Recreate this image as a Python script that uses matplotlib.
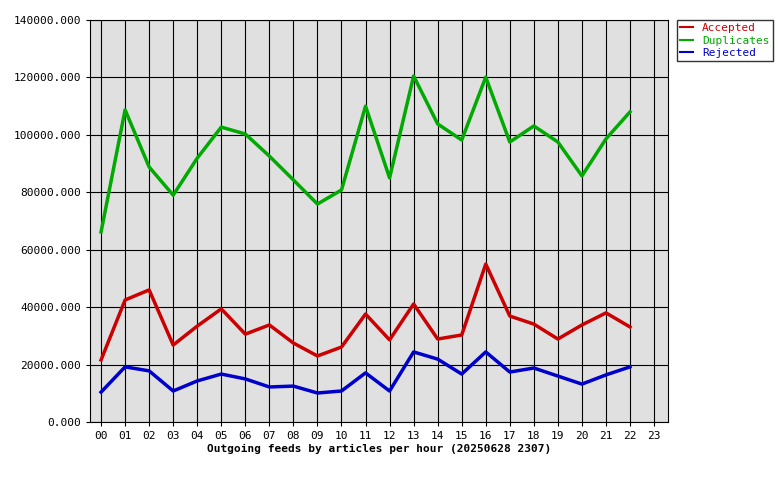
import matplotlib
matplotlib.use("Agg")
import matplotlib.pyplot as plt

hours = list(range(23))
hour_labels = [f"{h:02d}" for h in range(24)]

accepted = [21600, 42500, 46000, 26800, 33400, 39400, 30600, 33800, 27500, 23000,
            26100, 37600, 28600, 41100, 28900, 30300, 55000, 36900, 34100, 28900,
            33800, 38000, 33100]
duplicates = [66200, 108700, 88800, 79000, 91900, 102700, 100300, 92600, 84300, 75900,
              80800, 110000, 85000, 120500, 103800, 98200, 120100, 97500, 103100, 97500,
              85700, 98600, 108000]
rejected = [10400, 19200, 17800, 10800, 14300, 16700, 15000, 12200, 12500, 10100,
            10800, 17100, 10800, 24400, 21900, 16700, 24400, 17400, 18800, 16000,
            13200, 16400, 19200]

plt.rcParams["font.family"] = "DejaVu Sans Mono"
plt.rcParams["font.size"] = 8

fig = plt.figure(figsize=(7.8, 4.8), dpi=100)
ax = fig.add_axes([90 / 780, 58 / 480, 578 / 780, 402 / 480])
ax.set_facecolor("#e0e0e0")

ax.plot(hours, accepted, color="#cc0000", lw=2.5, label="Accepted")
ax.plot(hours, duplicates, color="#00aa00", lw=2.5, label="Duplicates")
ax.plot(hours, rejected, color="#0000cc", lw=2.5, label="Rejected")

ax.set_xlim(-0.46, 23.58)
ax.set_ylim(0, 140000)
ax.set_xticks(range(24))
ax.set_xticklabels(hour_labels)
ax.set_yticks(range(0, 140001, 20000))
ax.set_yticklabels([f"{v}.000" if v else "0.000" for v in range(0, 140001, 20000)])
ax.grid(True, color="black", lw=0.8)
ax.set_axisbelow(True)
ax.tick_params(length=3)
for s in ax.spines.values():
    s.set_color("black")

ax.set_xlabel("Outgoing feeds by articles per hour (20250628 2307)", fontweight="bold", labelpad=2)

leg = ax.legend(loc="upper left", bbox_to_anchor=(1.015, 1.0), frameon=True, fancybox=False,
                handlelength=1.2, borderpad=0.3, labelspacing=0.2, borderaxespad=0)
leg.get_frame().set_edgecolor("black")
for t, c in zip(leg.get_texts(), ["#cc0000", "#00aa00", "#0000cc"]):
    t.set_color(c)
for line in leg.get_lines():
    line.set_linewidth(1.5)

fig.savefig("out.png", dpi=100)
